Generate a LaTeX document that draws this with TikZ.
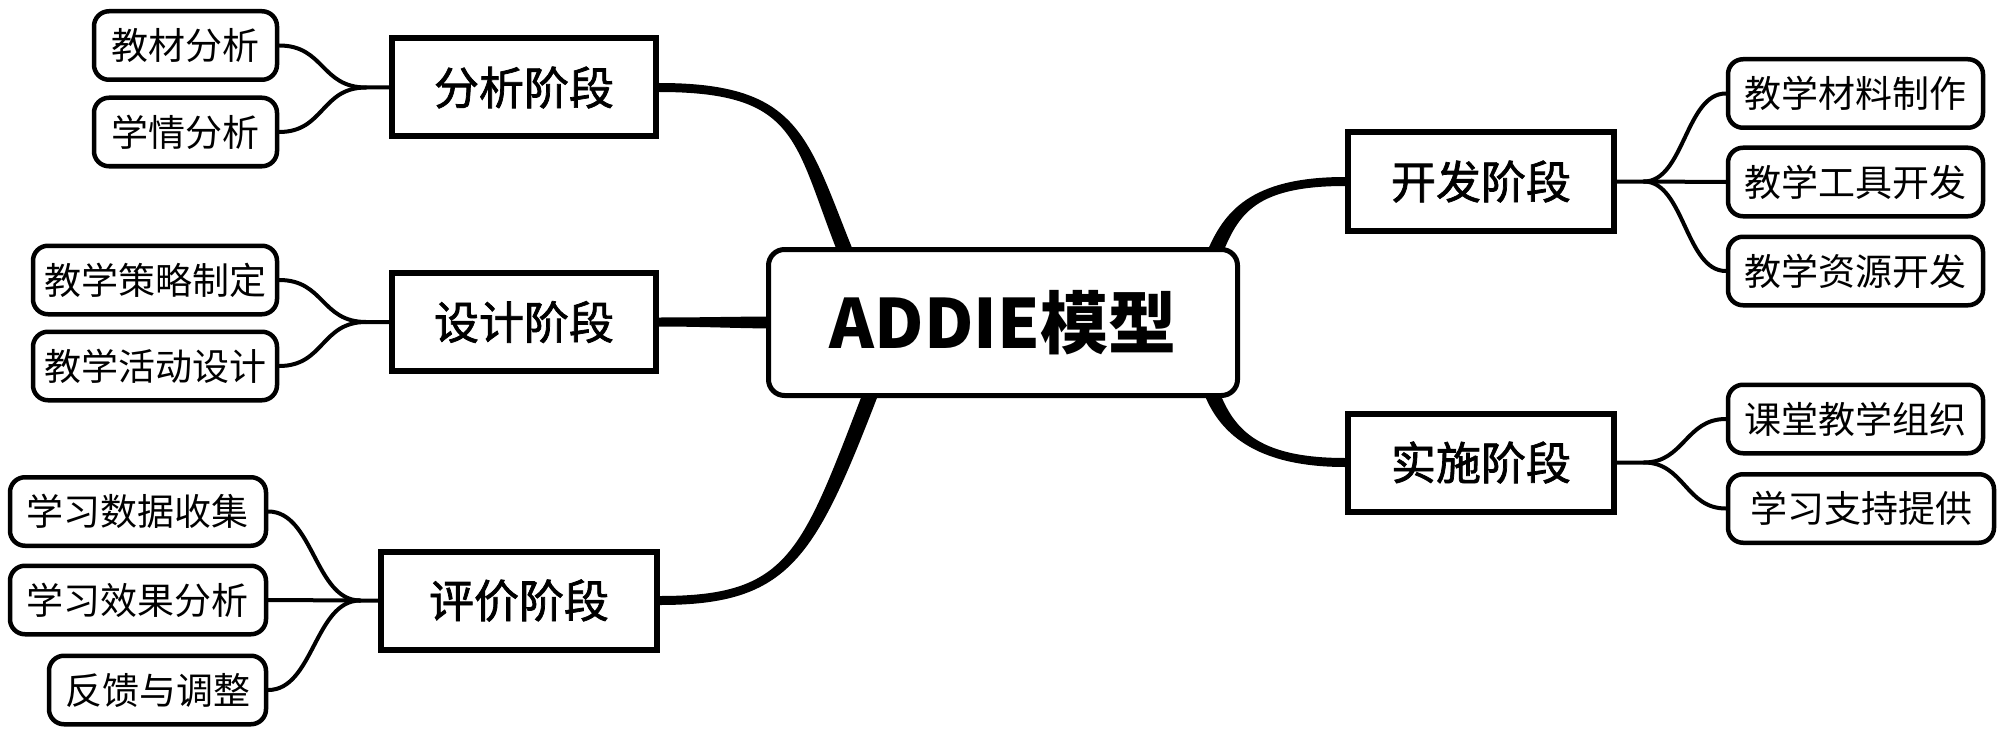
\documentclass[tikz,border=0pt]{standalone}
\usepackage{fontspec}
\newfontfamily\cjk{Noto Sans CJK SC}
\newfontfamily\cjkmid{Noto Sans CJK SC}[FakeBold=1.6]
\usetikzlibrary{calc,backgrounds}
\newcommand\taperlink[6]{%
  \fill ($#1!#5!90:#2$) .. controls ($#2!#5!-90:#1$) and ($#3!#6!90:#4$) .. ($#4!#6!-90:#3$)
  -- ($#4!#6!90:#3$) .. controls ($#3!#6!-90:#4$) and ($#2!#5!90:#1$) .. ($#1!#5!-90:#2$) -- cycle;}
\begin{document}
\begin{tikzpicture}[x=1pt,y=-1pt,
  phasebox/.style={draw, line width=6pt, fill=white, minimum width=266pt, minimum height=98pt,
    inner sep=0pt, font=\cjkmid\fontsize{45}{54}\selectfont},
  leafbox/.style={draw, line width=4.5pt, rounded corners=15pt, fill=white, minimum height=68.5pt,
    inner sep=0pt, font=\cjk\fontsize{37}{44}\selectfont},
  rootbox/.style={draw, line width=5pt, rounded corners=16pt, fill=white, minimum width=469pt,
    minimum height=146pt, inner sep=0pt, font=\cjk\bfseries\fontsize{68}{80}\selectfont},
  twig/.style={line width=4pt, line cap=round}
]
\useasboundingbox (0,0) rectangle (2000,733);

% root
\node[rootbox] (addie) at (1003,322.5) {ADDIE模型};

% phases
\node[phasebox, minimum width=264pt] (ana) at (524,87.5) {分析阶段};
\node[phasebox, minimum width=264pt] (des) at (524,322) {设计阶段};
\node[phasebox, minimum width=276pt] (eva) at (519,600.5) {评价阶段};
\node[phasebox] (dev) at (1481,181.5) {开发阶段};
\node[phasebox] (imp) at (1481,462.5) {实施阶段};

% leaves
\node[leafbox, minimum width=183pt] (l1) at (185.5,45.5) {教材分析};
\node[leafbox, minimum width=183pt] (l2) at (185.5,132) {学情分析};
\node[leafbox, minimum width=244pt] (l3) at (155,280) {教学策略制定};
\node[leafbox, minimum width=244pt] (l4) at (155,366) {教学活动设计};
\node[leafbox, minimum width=256pt] (l5) at (138,511.5) {学习数据收集};
\node[leafbox, minimum width=256pt] (l6) at (138,600) {学习效果分析};
\node[leafbox, minimum width=217pt] (l7) at (157.5,690) {反馈与调整};
\node[leafbox, minimum width=255pt] (r1) at (1855.5,93.5) {教学材料制作};
\node[leafbox, minimum width=255pt] (r2) at (1855.5,182) {教学工具开发};
\node[leafbox, minimum width=255pt] (r3) at (1855.5,271) {教学资源开发};
\node[leafbox, minimum width=255pt] (r4) at (1855.5,419) {课堂教学组织};
\node[leafbox, minimum width=266pt] (r5) at (1861,508.5) {学习支持提供};

% junctions
\coordinate (ja) at ($(ana.west)+(-23,0)$);
\coordinate (jd) at ($(des.west)+(-23,0)$);
\coordinate (je) at ($(eva.west)+(-18,0)$);
\coordinate (jv) at ($(dev.east)+(27,0)$);
\coordinate (ji) at ($(imp.east)+(27,0)$);

% leaf connectors
\draw[twig] (l1.east) .. controls +(45,0) and +(-45,0) .. (ja) -- (ana.west);
\draw[twig] (l2.east) .. controls +(45,0) and +(-45,0) .. (ja);
\draw[twig] (l3.east) .. controls +(45,0) and +(-45,0) .. (jd) -- (des.west);
\draw[twig] (l4.east) .. controls +(45,0) and +(-45,0) .. (jd);
\draw[twig] (l5.east) .. controls +(45,0) and +(-45,0) .. (je) -- (eva.west);
\draw[twig] (l6.east) -- (je);
\draw[twig] (l7.east) .. controls +(45,0) and +(-45,0) .. (je);
\draw[twig] (dev.east) -- (jv) .. controls +(40,0) and +(-40,0) .. (r1.west);
\draw[twig] (jv) -- (r2.west);
\draw[twig] (jv) .. controls +(40,0) and +(-40,0) .. (r3.west);
\draw[twig] (imp.east) -- (ji) .. controls +(40,0) and +(-40,0) .. (r4.west);
\draw[twig] (ji) .. controls +(40,0) and +(-40,0) .. (r5.west);

% main branch control points
\coordinate (a1) at ($(ana.east)+(143,0)$);
\coordinate (a2) at ($(addie.north)+(-203,-107)$);
\coordinate (a3) at ($(addie.north)+(-155,11)$);
\coordinate (d1) at ($(des.east)+(43,0)$);
\coordinate (d2) at ($(addie.west)+(-26,0)$);
\coordinate (d3) at ($(addie.west)+(12,0)$);
\coordinate (e1) at ($(eva.east)+(130,0)$);
\coordinate (e2) at ($(addie.south)+(-195,158)$);
\coordinate (e3) at ($(addie.south)+(-131,-8)$);
\coordinate (v1) at ($(dev.west)+(-95,0)$);
\coordinate (v2) at ($(addie.north)+(227,-32)$);
\coordinate (v3) at ($(addie.north)+(210,10)$);
\coordinate (i1) at ($(imp.west)+(-90,0)$);
\coordinate (i2) at ($(addie.south)+(222,32)$);
\coordinate (i3) at ($(addie.south)+(207,-10)$);

\begin{pgfonlayer}{background}
  \fill[white] (0,0) rectangle (2000,733);
  \taperlink{(ana.east)}{(a1)}{(a2)}{(a3)}{4.5pt}{7.5pt}
  \taperlink{(des.east)}{(d1)}{(d2)}{(d3)}{4.5pt}{6pt}
  \taperlink{(eva.east)}{(e1)}{(e2)}{(e3)}{4.5pt}{7.5pt}
  \taperlink{(dev.west)}{(v1)}{(v2)}{(v3)}{4.5pt}{7.5pt}
  \taperlink{(imp.west)}{(i1)}{(i2)}{(i3)}{4.5pt}{7.5pt}
\end{pgfonlayer}
\end{tikzpicture}
\end{document}
